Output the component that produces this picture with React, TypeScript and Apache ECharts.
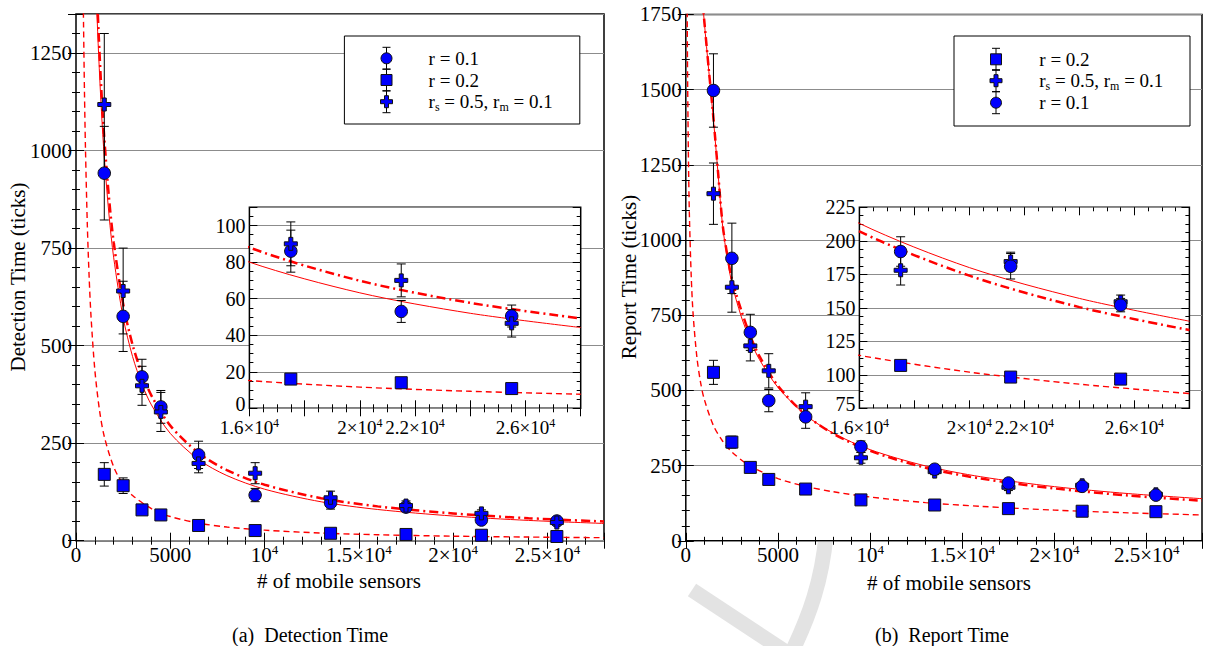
import React, { useEffect, useRef } from 'react';
import * as echarts from 'echarts';

const FONT = 'Liberation Serif, Times New Roman, serif';
const FS = 21;

// ---------- data ----------
const X_POINTS = [1500, 2500, 3500, 4500, 6500, 9500, 13500, 17500, 21500, 25500];

// (a) Detection Time
const detR01 = [942, 575, 420, 343, 220, 117, 97, 86, 53, 50.5];
const detR01Err = [120, 90, 45, 42, 35, 17, 16, 11.5, 6, 6];
const detR02 = [170, 141, 79, 66, 39, 26, 19, 16, 14, 10.8];
const detR02Err = [30, 20, 5, 4, 3, 2, 2, 1.5, 1.5, 1];
const detRsm = [1118, 640, 397, 330, 198, 173, 110, 90, 70, 46.5];
const detRsmErr = [182, 110, 50, 50, 24, 27, 17, 12, 9, 7.5];

const detFitR01X = [1000, 1100, 1200, 1350, 1500, 1750, 2000, 2500, 3000, 3500, 4000, 5000, 6500, 8000, 10000, 13000, 16000, 20000, 24000, 28000];
const detFitR01Y = [1512, 1366, 1246, 1100, 983, 835, 725, 572, 472, 401, 348, 275, 208, 167, 132, 99.7, 80, 63.2, 52, 44.2];
const detFitR02X = [380, 400, 450, 500, 600, 700, 800, 1000, 1250, 1500, 2000, 2500, 3000, 4000, 5000, 6500, 8000, 10000, 13000, 16000, 20000, 24000, 28000];
const detFitR02Y = [1407, 1323, 1147, 1010, 810, 672, 572, 437, 333, 267, 189, 144, 116, 82, 62, 45, 35, 27, 19.6, 15.2, 11.6, 9.3, 7.7];
const detFitRsmX = [1050, 1100, 1200, 1350, 1500, 1750, 2000, 2500, 3000, 3500, 4000, 5000, 6500, 8000, 10000, 13000, 16000, 20000, 24000, 28000];
const detFitRsmY = [1496, 1425, 1301, 1151, 1032, 879, 765, 607, 502, 428, 372, 295, 225, 181, 143.5, 109, 88, 69.8, 57.7, 49.2];

// (b) Report Time
const repR01 = [1497, 939, 693, 466, 412, 313, 238, 192, 181, 152];
const repR01Err = [122, 117, 60, 37, 38, 19, 10, 11, 9.5, 5];
const repR02 = [560, 328, 244, 204, 172, 136, 119, 107, 98.3, 96.8];
const repR02Err = [40, 20, 8, 6, 5, 4, 4, 3, 2, 2];
const repRsm = [1154, 843, 648, 565, 446, 276, 230, 178, 184.5, 154.5];
const repRsmErr = [102, 83, 50, 57, 46, 18, 10, 11, 7, 5];

const repFitR01X = [900, 1000, 1250, 1500, 1750, 2000, 2250, 2500, 3000, 3500, 4000, 5000, 6500, 8000, 10000, 13000, 16000, 20000, 24000, 28000];
const repFitR01Y = [1800, 1727, 1560, 1400, 1220, 1045, 940, 856, 747, 666, 602, 510, 418, 358, 303, 249, 213, 180, 157, 140];
const repFitR02X = [70, 80, 100, 150, 200, 300, 400, 600, 800, 1000, 1500, 2000, 2500, 3500, 5000, 6500, 8000, 10000, 13000, 16000, 20000, 24000, 28000];
const repFitR02Y = [1827, 1707, 1523, 1239, 1070, 870, 751, 611, 527, 471, 383, 331, 295, 248.5, 207, 181, 163, 145.5, 127, 114.5, 102, 93, 86];
const repFitRsmX = [900, 1000, 1250, 1500, 1750, 2000, 2250, 2500, 3000, 3500, 4000, 5000, 6500, 8000, 10000, 13000, 16000, 20000, 24000, 28000];
const repFitRsmY = [1800, 1730, 1565, 1405, 1225, 1050, 950, 870, 768, 681, 613, 515, 419, 356, 299, 243, 207, 174, 150.5, 133.4];

// tick labels
const mainXTicks = [0, 5000, 10000, 15000, 20000, 25000];
const mainXLabels = ['0', '5000', '10^4', '1.5×10^4', '2×10^4', '2.5×10^4'];
const insetXTicks = [16000, 20000, 22000, 26000];
const insetXLabels = ['1.6×10^4', '2×10^4', '2.2×10^4', '2.6×10^4'];

// legend labels
const legendLeft = ['circle', 'rect', 'cross'];
const legendLeftText = ['r = 0.1', 'r = 0.2', 'rs'];
const legendRight = ['rect', 'cross', 'circle'];
const legendRightText = ['r = 0.2', 'rs', 'r = 0.1'];

// ---------- helpers ----------
const CROSS = 'path://M4.5,0H8.5V4.5H13V8.5H8.5V13H4.5V8.5H0V4.5H4.5Z';
const BLUE = '#0000ff';
const RED = '#ff0000';

function makeRich(fs: number, lh: number, sfs: number) {
  return {
    n: { fontSize: fs, fontFamily: FONT, color: '#000', lineHeight: lh },
    sup: { fontSize: sfs, fontFamily: FONT, color: '#000', lineHeight: sfs, verticalAlign: 'top' },
    lo: { fontSize: fs, fontFamily: FONT, color: '#000', lineHeight: 16, padding: [0, 0, 9, 0] },
  };
}
function richLabel(s: string) {
  const [a, b] = s.split('^');
  return b ? `{n|${a}}{sup|${b}}` : `{n|${a}}`;
}
function tickFmt(ticks: number[], labels: string[]) {
  return (v: number) => {
    const i = ticks.findIndex((t) => Math.abs(t - v) < 1e-6);
    return i >= 0 ? richLabel(labels[i]) : '';
  };
}
function yFmt(step: number, raiseMin?: number) {
  return (v: number) => {
    if (Math.abs(v / step - Math.round(v / step)) > 1e-6) return '';
    if (raiseMin !== undefined && Math.abs(v - raiseMin) < 1e-6) return `{lo|${v}}`;
    return String(v);
  };
}

function makeAxes(dim: 'x' | 'y', gridIndex: number, min: number, max: number, major: number, minor: number, fmt: any, z: number, xMargin = 2, fs = FS, lh = FS + 3) {
  const positions = dim === 'x' ? ['bottom', 'top'] : ['left', 'right'];
  const res: any[] = [];
  positions.forEach((p, pi) => {
    [major, minor].forEach((iv, ii) => {
      const primary = pi === 0 && ii === 0;
      res.push({
        type: 'value',
        gridIndex,
        min,
        max,
        interval: iv,
        position: p,
        z,
        axisLine: { show: false },
        axisTick: { show: true, inside: true, length: ii === 0 ? 8 : 4, lineStyle: { color: '#000', width: 1 } },
        axisLabel: primary
          ? {
              show: true,
              formatter: fmt,
              margin: dim === 'x' ? xMargin : 4,
              fontSize: fs,
              fontFamily: FONT,
              color: '#000',
              lineHeight: dim === 'y' ? 16 : undefined,
              rich: makeRich(fs, lh, Math.round(fs * 0.63)),
            }
          : { show: false },
        splitLine: { show: primary && dim === 'y', lineStyle: { color: '#8c8c8c', width: 1 } },
        minorTick: { show: false },
        splitArea: { show: false },
      });
    });
  });
  return res;
}

const errRender = (params: any, api: any) => {
  const x = api.value(0);
  const y = api.value(1);
  const e = api.value(2);
  const t = api.coord([x, y + e]);
  const b = api.coord([x, y - e]);
  const hw = 4.5;
  const st = { stroke: '#000', lineWidth: 1 };
  return {
    type: 'group',
    children: [
      { type: 'line', shape: { x1: t[0], y1: t[1], x2: b[0], y2: b[1] }, style: st },
      { type: 'line', shape: { x1: t[0] - hw, y1: t[1], x2: t[0] + hw, y2: t[1] }, style: st },
      { type: 'line', shape: { x1: b[0] - hw, y1: b[1], x2: b[0] + hw, y2: b[1] }, style: st },
    ],
  };
};

type PSet = { sym: string; y: number[]; err: number[] };
type Curve = { x: number[]; y: number[]; width: number; type: any };

function seriesFor(axisIdx: number, sets: PSet[], curves: Curve[], xMin: number, zBase: number) {
  const out: any[] = [];
  curves.forEach((c) => {
    out.push({
      type: 'line',
      xAxisIndex: axisIdx,
      yAxisIndex: axisIdx,
      data: c.x.map((x, i) => [x, c.y[i]]).filter((d) => d[0] >= xMin - 3000),
      showSymbol: false,
      symbol: 'none',
      smooth: 0.3,
      clip: true,
      silent: true,
      z: zBase,
      lineStyle: { color: RED, width: c.width, type: c.type },
    });
  });
  sets.forEach((s) => {
    const pts = X_POINTS.map((x, i) => [x, s.y[i], s.err[i]]).filter((d) => d[0] >= xMin);
    out.push({
      type: 'custom',
      xAxisIndex: axisIdx,
      yAxisIndex: axisIdx,
      data: pts,
      renderItem: errRender,
      encode: { x: 0, y: 1 },
      clip: true,
      silent: true,
      z: zBase + 1,
    });
  });
  sets.forEach((s) => {
    const pts = X_POINTS.map((x, i) => [x, s.y[i]]).filter((d) => d[0] >= xMin);
    out.push({
      type: 'scatter',
      xAxisIndex: axisIdx,
      yAxisIndex: axisIdx,
      data: pts,
      symbol: s.sym === 'cross' ? CROSS : s.sym,
      symbolSize: s.sym === 'circle' ? 12.5 : s.sym === 'rect' ? 12 : 13,
      clip: true,
      silent: true,
      z: zBase + 2,
      itemStyle: { color: BLUE, borderColor: '#111', borderWidth: 1, opacity: 1 },
    });
  });
  return out;
}

function crossPts(cx: number, cy: number, s = 6, a = 2) {
  return [
    [cx - a, cy - s], [cx + a, cy - s], [cx + a, cy - a], [cx + s, cy - a], [cx + s, cy + a], [cx + a, cy + a],
    [cx + a, cy + s], [cx - a, cy + s], [cx - a, cy + a], [cx - s, cy + a], [cx - s, cy - a], [cx - a, cy - a],
  ];
}

const LFS = 19;
const legendRich: any = {
  n: { fontSize: LFS, fontFamily: FONT, fill: '#000', color: '#000', lineHeight: 22 },
  sub: { fontSize: 12, fontFamily: FONT, fill: '#000', color: '#000', lineHeight: 8, verticalAlign: 'bottom' },
};

function legendBox(x0: number, y0: number, w: number, h: number, mx: number, tx: number, rows: number[], syms: string[], texts: string[]) {
  const els: any[] = [
    { type: 'rect', shape: { x: x0, y: y0, width: w, height: h }, style: { fill: '#fff', stroke: '#000', lineWidth: 1 }, z: 20 },
  ];
  rows.forEach((cy, i) => {
    const st = { stroke: '#000', lineWidth: 1 };
    els.push({ type: 'line', shape: { x1: mx, y1: cy - 11, x2: mx, y2: cy + 11 }, style: st, z: 21 });
    els.push({ type: 'line', shape: { x1: mx - 4, y1: cy - 11, x2: mx + 4, y2: cy - 11 }, style: st, z: 21 });
    els.push({ type: 'line', shape: { x1: mx - 4, y1: cy + 11, x2: mx + 4, y2: cy + 11 }, style: st, z: 21 });
    const ms = { fill: BLUE, stroke: '#111', lineWidth: 1 };
    if (syms[i] === 'circle') els.push({ type: 'circle', shape: { cx: mx, cy, r: 5.5 }, style: ms, z: 22 });
    else if (syms[i] === 'rect') els.push({ type: 'rect', shape: { x: mx - 5.5, y: cy - 5.5, width: 11, height: 11 }, style: ms, z: 22 });
    else els.push({ type: 'polygon', shape: { points: crossPts(mx, cy) }, style: ms, z: 22 });
    const text = texts[i] === 'rs' ? '{n|r}{sub|s}{n| = 0.5, r}{sub|m}{n| = 0.1}' : `{n|${texts[i]}}`;
    els.push({
      type: 'text',
      x: tx,
      y: cy,
      z: 22,
      style: { text, rich: legendRich, fill: '#000', align: 'left', verticalAlign: 'middle', textAlign: 'left', textVerticalAlign: 'middle', fontSize: LFS, fontFamily: FONT },
    });
  });
  return els;
}

function txt(x: number, y: number, text: string, size: number, rot = 0, align = 'center') {
  return {
    type: 'text',
    x,
    y,
    rotation: rot,
    z: 22,
    style: { text, fontSize: size, fontFamily: FONT, fill: '#000', align, verticalAlign: 'middle', textAlign: align, textVerticalAlign: 'middle' },
  };
}

export default function App() {
  const ref = useRef<HTMLDivElement>(null);
  useEffect(() => {
    if (!ref.current) return;
    const chart = echarts.init(ref.current, undefined, { renderer: 'svg' });

    const grids = [
      { left: 76, top: 14, width: 528, height: 526.7, show: true, backgroundColor: '#fff', borderColor: '#000', borderWidth: 1.5, z: 1 },
      { left: 249.4, top: 207.3, width: 331.3, height: 201, show: true, backgroundColor: '#fff', borderColor: '#000', borderWidth: 1.5, z: 6 },
      { left: 685.8, top: 14.4, width: 527.8, height: 526.4, show: true, backgroundColor: '#fff', borderColor: '#000', borderWidth: 1.5, z: 1 },
      { left: 859.4, top: 207.3, width: 330, height: 201, show: true, backgroundColor: '#fff', borderColor: '#000', borderWidth: 1.5, z: 6 },
    ];

    const xAxes = [
      ...makeAxes('x', 0, 0, 28000, 5000, 1000, tickFmt(mainXTicks, mainXLabels), 2),
      ...makeAxes('x', 1, 16000, 28000, 2000, 500, tickFmt(insetXTicks, insetXLabels), 7, 9, 19, 20),
      ...makeAxes('x', 2, 0, 28000, 5000, 1000, tickFmt(mainXTicks, mainXLabels), 2),
      ...makeAxes('x', 3, 16000, 28000, 2000, 500, tickFmt(insetXTicks, insetXLabels), 7, 9, 19, 20),
    ];
    const yAxes = [
      ...makeAxes('y', 0, 0, 1350, 250, 50, yFmt(250), 2),
      ...makeAxes('y', 1, 0, 110, 20, 5, yFmt(20, 0), 7, 2, 20),
      ...makeAxes('y', 2, 0, 1750, 250, 50, yFmt(250), 2),
      ...makeAxes('y', 3, 75, 225, 25, 6.25, yFmt(25, 75), 7, 2, 20),
    ];

    const dashed: any = [6, 4];
    const dashDot: any = [9, 4, 2, 4];

    const detSets: PSet[] = [
      { sym: 'rect', y: detR02, err: detR02Err },
      { sym: 'circle', y: detR01, err: detR01Err },
      { sym: 'cross', y: detRsm, err: detRsmErr },
    ];
    const detCurves: Curve[] = [
      { x: detFitR02X, y: detFitR02Y, width: 1.4, type: dashed },
      { x: detFitR01X, y: detFitR01Y, width: 1, type: 'solid' },
      { x: detFitRsmX, y: detFitRsmY, width: 2.5, type: dashDot },
    ];
    const repSets: PSet[] = [
      { sym: 'rect', y: repR02, err: repR02Err },
      { sym: 'cross', y: repRsm, err: repRsmErr },
      { sym: 'circle', y: repR01, err: repR01Err },
    ];
    const repCurves: Curve[] = [
      { x: repFitR02X, y: repFitR02Y, width: 1.4, type: dashed },
      { x: repFitRsmX, y: repFitRsmY, width: 2.5, type: dashDot },
      { x: repFitR01X, y: repFitR01Y, width: 1, type: 'solid' },
    ];

    const series = [
      ...seriesFor(0, detSets, detCurves, 0, 3),
      ...seriesFor(4, detSets, detCurves, 16000, 8),
      ...seriesFor(8, repSets, repCurves, 0, 3),
      ...seriesFor(12, repSets, repCurves, 16000, 8),
    ];

    const wm = { stroke: '#e3e3e3', lineWidth: 15, fill: 'none' };
    const graphics: any[] = [
      { type: 'line', shape: { x1: 692, y1: 590, x2: 792, y2: 656 }, style: wm, z: 0 },
      { type: 'bezierCurve', shape: { x1: 790, y1: 656, cpx1: 810, cpy1: 615, cpx2: 822, cpy2: 580, x2: 826, y2: 535 }, style: wm, z: 0 },
      ...legendBox(344.4, 36, 235.4, 88, 386.5, 428.6, [58.3, 80, 101.7], legendLeft, legendLeftText),
      ...legendBox(954, 36, 236, 90, 996, 1039.3, [59.3, 80.7, 102.7], legendRight, legendRightText),
      txt(18, 277, 'Detection Time (ticks)', FS, Math.PI / 2),
      txt(629, 277, 'Report Time (ticks)', FS, Math.PI / 2),
      txt(339, 581, '# of mobile sensors', FS),
      txt(949, 583, '# of mobile sensors', FS),
      txt(232, 635, '(a)\u2002Detection Time', 20, 0, 'left'),
      txt(875, 635, '(b)\u2002Report Time', 20, 0, 'left'),
    ];

    chart.setOption({
      animation: false,
      backgroundColor: '#fff',
      textStyle: { fontFamily: FONT },
      grid: grids,
      xAxis: xAxes,
      yAxis: yAxes,
      series,
      graphic: { elements: graphics },
    });
    return () => chart.dispose();
  }, []);
  return <div ref={ref} style={{ position: 'fixed', left: 0, top: 0, width: 1205, height: 646, background: '#fff' }} />;
}
